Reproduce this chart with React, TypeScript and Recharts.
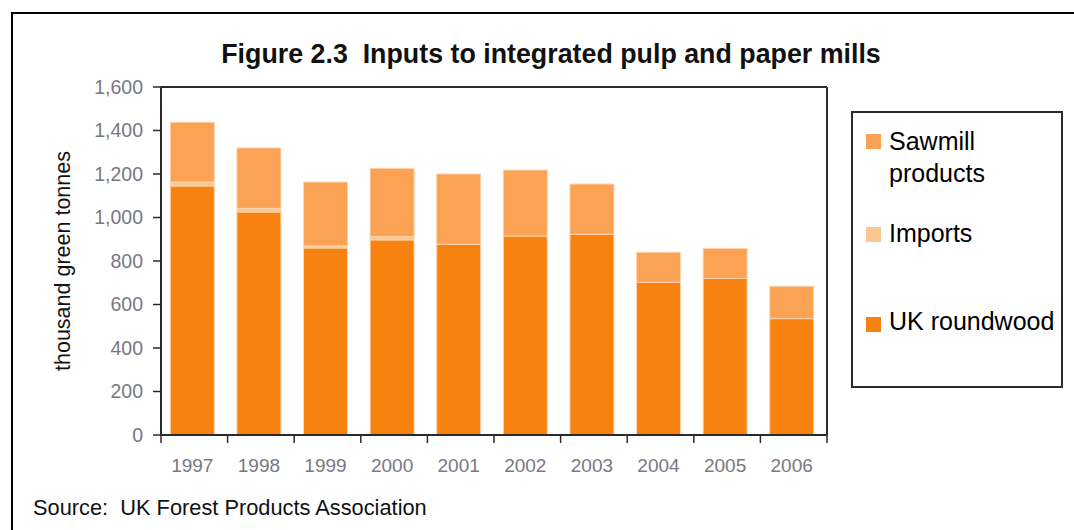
import { BarChart, Bar, XAxis, YAxis, Legend } from 'recharts'

const years = ['1997', '1998', '1999', '2000', '2001', '2002', '2003', '2004', '2005', '2006']
const ukRoundwood = [1145, 1025, 860, 897, 877, 915, 923, 702, 720, 535]
const imports = [18, 17, 10, 15, 0, 0, 0, 0, 0, 0]
const sawmill = [275, 278, 293, 314, 323, 303, 231, 138, 138, 149]
const yTicks = [0, 200, 400, 600, 800, 1000, 1200, 1400, 1600]

const data = years.map((y, i) => ({
  year: y,
  uk: ukRoundwood[i],
  imports: imports[i],
  sawmill: sawmill[i],
}))

const FONT = '"Liberation Sans", Arial, sans-serif'
const AXIS = '#2b2b2b'
const TICK = '#787882'
const SHIFT = 2 // Excel draws the bars a hair left of the band centre

// legend rows sit at fixed spots inside the box, top to bottom
const legendRows: Record<string, { text: number; box: number }> = {
  sawmill: { text: 12, box: 21 },
  imports: { text: 104, box: 114 },
  uk: { text: 192, box: 204 },
}

function LegendBox({ payload }: { payload?: any[] }) {
  const items = (payload ?? []).filter(p => legendRows[p.dataKey])
  return (
    <div
      style={{
        boxSizing: 'border-box',
        width: 212,
        height: 277,
        border: `2px solid ${AXIS}`,
        position: 'relative',
        background: '#fff',
        fontFamily: FONT,
      }}
    >
      {items.map(p => {
        const row = legendRows[p.dataKey]
        return (
          <div key={p.dataKey}>
            <div
              style={{ position: 'absolute', left: 13, top: row.box, width: 15, height: 15, background: p.color }}
            />
            <div
              style={{
                position: 'absolute',
                left: 36,
                top: row.text,
                width: 170,
                fontSize: 25,
                lineHeight: '32px',
                color: '#000',
                textAlign: 'left',
              }}
            >
              {p.value}
            </div>
          </div>
        )
      })}
    </div>
  )
}

function YLabel(props: any) {
  const vb = props.viewBox
  const cx = 63
  const cy = vb.y + vb.height / 2
  return (
    <text
      x={cx}
      y={cy}
      transform={`rotate(-90, ${cx}, ${cy})`}
      textAnchor="middle"
      dominantBaseline="central"
      fontSize={21.5}
      fontFamily={FONT}
      fill="#111"
    >
      thousand green tonnes
    </text>
  )
}

// year label under the band centre, tick marks on the band edges (Excel style)
function YearTick(props: any) {
  const { x, y, payload, index, visibleTicksCount } = props
  const half = payload?.offset ?? 33.3
  const axisY = y - 24
  const last = index === (visibleTicksCount ?? years.length) - 1
  const left = x - half + SHIFT
  const right = x + half + SHIFT
  return (
    <g>
      <line x1={left} x2={left} y1={axisY} y2={axisY + 8} stroke={AXIS} strokeWidth={1.5} />
      {last && <line x1={right} x2={right} y1={axisY} y2={axisY + 8} stroke={AXIS} strokeWidth={1.5} />}
      <text x={x} y={y} dy="0.71em" textAnchor="middle" fontSize={19} fill={TICK} fontFamily={FONT}>
        {payload.value}
      </text>
    </g>
  )
}

export default function App() {
  return (
    <div style={{ position: 'absolute', left: 0, top: 0, width: 1074, height: 530, background: '#fff', overflow: 'hidden' }}>
      <div
        style={{
          position: 'absolute',
          left: 11,
          top: 12,
          width: 1100,
          height: 560,
          borderTop: '2px solid #000',
          borderLeft: '2px solid #000',
        }}
      />
      <div
        style={{
          position: 'absolute',
          left: 0,
          width: 1102,
          top: 41,
          textAlign: 'center',
          fontFamily: FONT,
          fontWeight: 'bold',
          fontSize: 26.8,
          lineHeight: 1,
          color: '#111',
          whiteSpace: 'nowrap',
        }}
      >
        Figure 2.3&nbsp;&nbsp;Inputs to integrated pulp and paper mills
      </div>
      <div
        style={{
          position: 'absolute',
          left: 33,
          top: 497,
          fontFamily: FONT,
          fontSize: 21.8,
          lineHeight: 1,
          color: '#111',
          whiteSpace: 'nowrap',
        }}
      >
        Source:&nbsp;&nbsp;UK Forest Products Association
      </div>
      <div style={{ position: 'absolute', left: 0, top: 0 }}>
        <BarChart
          width={1074}
          height={530}
          data={data}
          margin={{ top: 86, right: 246, bottom: 55, left: 101 }}
          barCategoryGap="17%"
        >
          <XAxis
            dataKey="year"
            height={40}
            padding={{ left: -SHIFT, right: SHIFT }}
            axisLine={{ stroke: AXIS, strokeWidth: 2 }}
            tickLine={false}
            tickSize={8}
            tickMargin={16}
            tick={<YearTick />}
            interval={0}
          />
          <XAxis
            xAxisId="top"
            dataKey="year"
            orientation="top"
            height={1}
            tick={false}
            tickLine={false}
            axisLine={{ stroke: AXIS, strokeWidth: 2 }}
          />
          <YAxis
            yAxisId="right"
            orientation="right"
            width={1}
            tick={false}
            tickLine={false}
            domain={[0, 1600]}
            axisLine={{ stroke: AXIS, strokeWidth: 2 }}
          />
          <YAxis
            width={60}
            domain={[0, 1600]}
            ticks={yTicks}
            interval={0}
            tickSize={8}
            tickMargin={10}
            tickFormatter={(v: number) => v.toLocaleString('en-US')}
            tick={{ fontSize: 19.5, fill: TICK, fontFamily: FONT }}
            axisLine={{ stroke: AXIS, strokeWidth: 2 }}
            tickLine={{ stroke: AXIS, strokeWidth: 1.5 }}
            label={<YLabel />}
          />
          <Legend
            layout="vertical"
            verticalAlign="middle"
            align="center"
            wrapperStyle={{ position: 'absolute', left: 851, top: 111, width: 212, height: 277 }}
            content={<LegendBox />}
          />
          <Bar
            dataKey="uk"
            name="UK roundwood"
            stackId="a"
            fill="#F8820F"
            stroke="#FDD5AE"
            strokeWidth={1}
            isAnimationActive={false}
          />
          <Bar
            dataKey="imports"
            name="Imports"
            stackId="a"
            fill="#FDC890"
            stroke="#FDD5AE"
            strokeWidth={1}
            isAnimationActive={false}
          />
          <Bar
            dataKey="sawmill"
            name="Sawmill products"
            stackId="a"
            fill="#FBA255"
            stroke="#FDD5AE"
            strokeWidth={1}
            isAnimationActive={false}
          />
        </BarChart>
      </div>
    </div>
  )
}
